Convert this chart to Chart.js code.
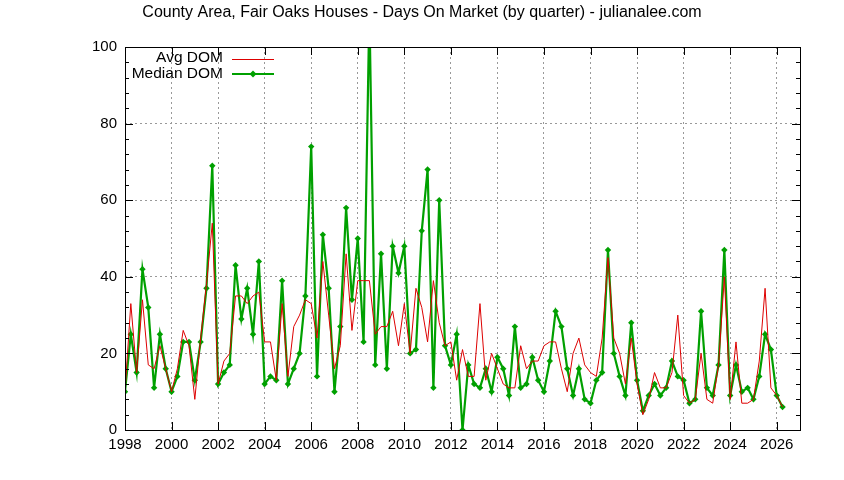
<!DOCTYPE html>
<html><head><script src="https://cdn.jsdelivr.net/npm/chart.js@4"></script>
<style>body{margin:0;background:#fff}</style></head>
<body><canvas id="c" width="844" height="480"></canvas>
<script>
const startYear = 1998;
const avgDOM = [10,33,15,34,17,16,22,16, 10,16,26,22,8,24,38,54, 12,18,20,35,35,33,35,36, 23,23,13,33,14,27,30,34,
 33,24,44,30,16,22,46,26, 39,39,39,25,27,27,31,22, 33,20,37,32,23,39,28,22, 23,13,21,14,14,33,13,20,
 16,12,11,11,22,16,18,18, 22,23,23,16,10,20,24,17, 15,14,24,45,24,20,12,24, 12,4,8,15,11,11,15,30,
 9,7,8,20,8,7,17,40, 8,23,7,7,8,18,37,11, 9,6];
const medianDOM = [10,25,15,42,32,11,25,16, 10,14,23,23,13,23,37,69, 12,15,17,43,29,37,25,44, 12,14,13,39,12,16,20,35,
 74,14,51,37,10,27,58,34, 50,23,110,17,46,16,48,41, 48,20,21,52,68,11,60,22, 17,25,0,17,12,11,16,10,
 19,16,9,27,11,12,19,13, 10,18,31,27,16,9,16,8, 7,13,15,47,20,14,9,28, 13,5,9,12,9,11,18,14,
 13,7,8,31,11,9,17,47, 9,17,10,11,8,14,25,21, 9,6];
const xTicks = [1998,2000,2002,2004,2006,2008,2010,2012,2014,2016,2018,2020,2022,2024,2026];
const yTicks = [0,20,40,60,80,100];
const pts = a => a.map((v,i)=>({x:startYear+i/4,y:v}));
const font = {family:'Liberation Sans, Arial', size:15};
const extras = {id:'extras', afterDraw(ch){
  const c=ch.ctx, a=ch.chartArea;
  c.save();
  c.fillStyle='#000'; c.font='16px Liberation Sans, Arial'; c.textAlign='center'; c.textBaseline='middle';
  c.fillText('County Area, Fair Oaks Houses - Days On Market (by quarter) - julianalee.com', 422, 13);
  c.strokeStyle='#000'; c.lineWidth=1; c.strokeRect(a.left+0.5,a.top+0.5,a.right-a.left,a.bottom-a.top);
  const ys=ch.scales.y, xs=ch.scales.x;
  for(let v=0;v<=100;v+=4){const y=Math.round(ys.getPixelForValue(v))+0.5;const L=v%20===0?8:4;
    c.beginPath();c.moveTo(a.left,y);c.lineTo(a.left+L,y);c.moveTo(a.right,y);c.lineTo(a.right-L,y);c.stroke();}
  for(const t of xTicks){const x=Math.round(xs.getPixelForValue(t))+0.5;
    c.beginPath();c.moveTo(x,a.bottom);c.lineTo(x,a.bottom-8);c.moveTo(x,a.top);c.lineTo(x,a.top+8);c.stroke();}
  c.textAlign='right'; c.font='15.5px Liberation Sans, Arial';
  c.fillText('Avg DOM',223,58); c.fillText('Median DOM',223,74);
  c.strokeStyle='#dd0000'; c.lineWidth=1; c.beginPath(); c.moveTo(232,59.5); c.lineTo(274,59.5); c.stroke();
  c.strokeStyle='#00a000'; c.lineWidth=2.2; c.beginPath(); c.moveTo(232,74); c.lineTo(274,74); c.stroke();
  c.fillStyle='#00a000'; c.beginPath(); c.moveTo(253,70.5);c.lineTo(256.5,74);c.lineTo(253,77.5);c.lineTo(249.5,74);c.fill();
  c.restore();
}};
new Chart(document.getElementById('c'),{
  type:'line',
  data:{datasets:[
    {label:'Avg DOM',data:pts(avgDOM),borderColor:'#dd0000',borderWidth:1,pointRadius:0,tension:0},
    {label:'Median DOM',data:pts(medianDOM),borderColor:'#00a000',backgroundColor:'#00a000',borderWidth:2.2,pointRadius:3.2,pointStyle:'rectRot',pointBorderWidth:0,tension:0}
  ]},
  options:{responsive:false,animation:false,
    layout:{padding:{left:0,right:44,top:47,bottom:0}},
    plugins:{legend:{display:false},tooltip:{enabled:false}},
    scales:{
      x:{type:'linear',min:1998,max:2027,afterFit:s=>{s.height=50},
        afterBuildTicks:s=>{s.ticks=xTicks.map(v=>({value:v}))},
        grid:{color:'#999',drawTicks:false},border:{display:false,dash:[2,3]},
        ticks:{color:'#000',font,padding:6,maxRotation:0,autoSkip:false,callback:v=>String(v)}},
      y:{min:0,max:100,afterFit:s=>{s.width=125},
        afterBuildTicks:s=>{s.ticks=yTicks.map(v=>({value:v}))},
        grid:{color:'#999',drawTicks:false},border:{display:false,dash:[2,3]},
        ticks:{color:'#000',font,padding:8}}
    }},
  plugins:[extras]
});
</script></body></html>
